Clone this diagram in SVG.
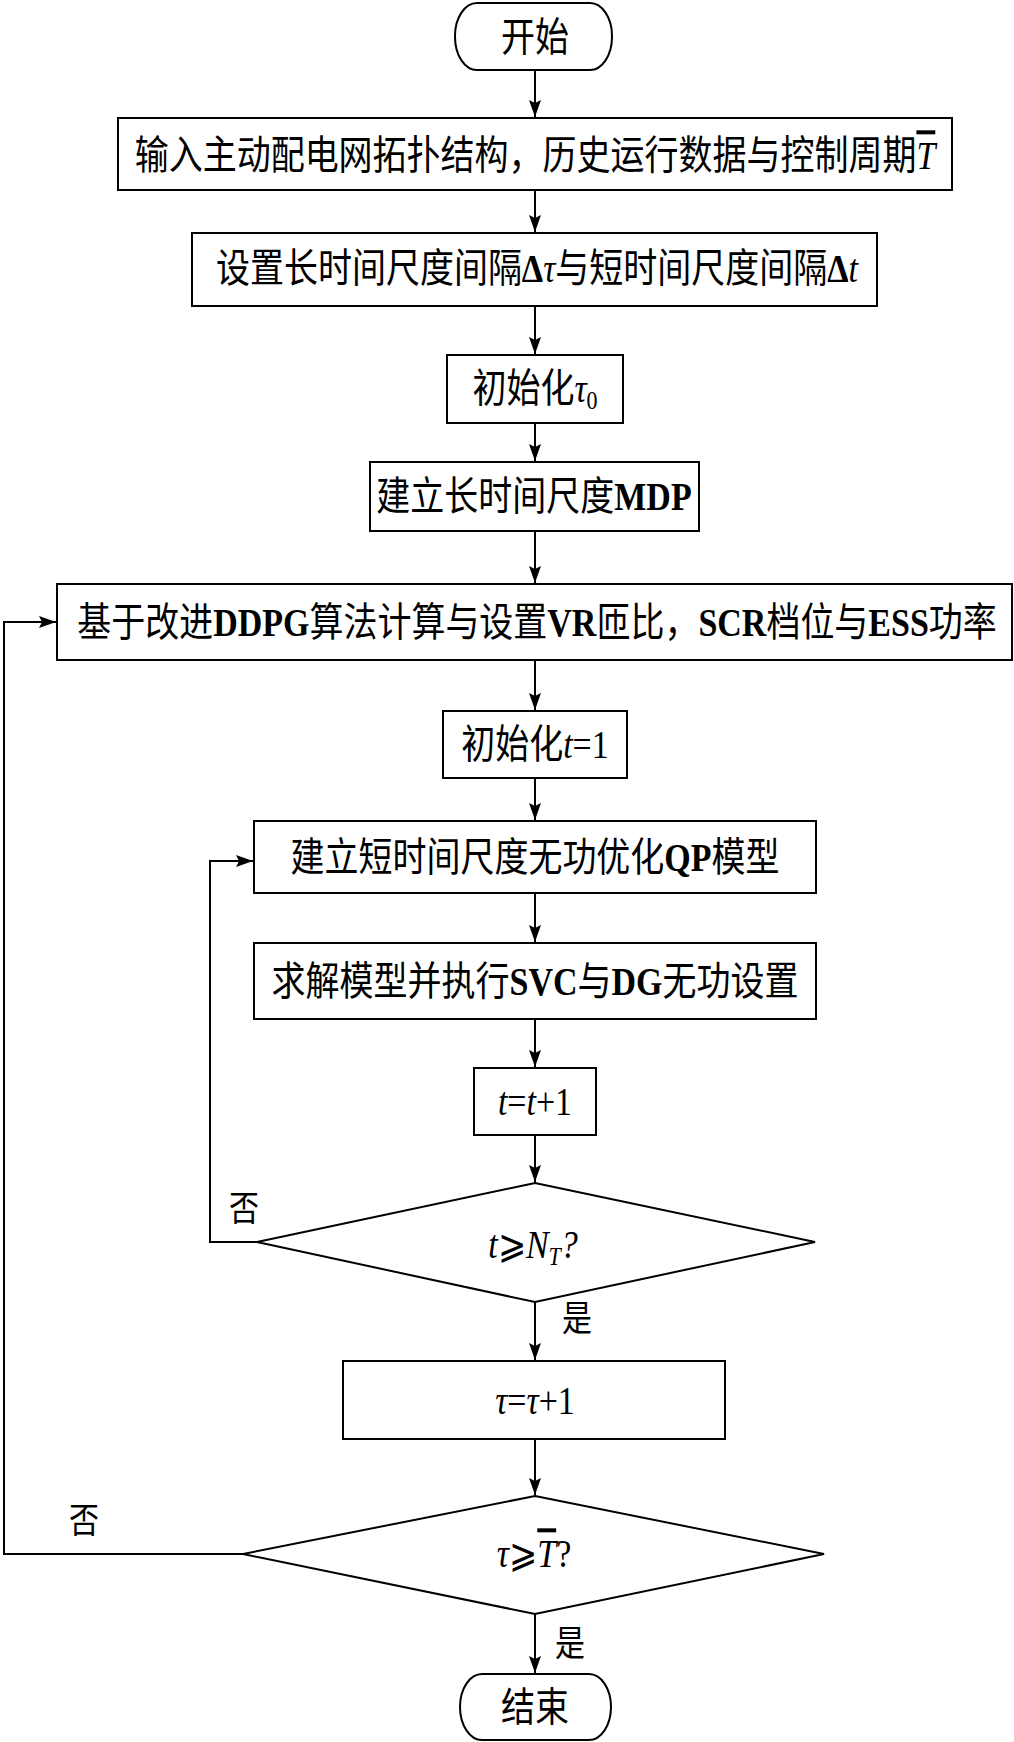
<svg xmlns="http://www.w3.org/2000/svg" width="1014" height="1742" viewBox="0 0 1014 1742">
<style>
.bx{fill:#fff;stroke:#000;stroke-width:2}
.ln{fill:none;stroke:#000;stroke-width:2}
.t{font-family:"Liberation Serif","Noto Sans CJK SC",serif;font-size:34px;text-anchor:middle;fill:#000}
.lb{font-family:"Liberation Serif","Noto Sans CJK SC",serif;font-size:30px;text-anchor:middle;fill:#000}
.b{font-weight:bold}
.i{font-style:italic}
.ov{text-decoration:overline}
</style>
<defs>
<marker id="ah" markerUnits="userSpaceOnUse" markerWidth="18" markerHeight="12" refX="17" refY="6" orient="auto"><path d="M0,0 L17,6 L0,12 L3,6 Z" fill="#000"/></marker>
</defs>
<rect width="1014" height="1742" fill="#fff"/>
<g id="connectors">
<path class="ln" d="M535,70 V117" marker-end="url(#ah)"/>
<path class="ln" d="M535,190 V232" marker-end="url(#ah)"/>
<path class="ln" d="M535,306 V354" marker-end="url(#ah)"/>
<path class="ln" d="M535,423 V461" marker-end="url(#ah)"/>
<path class="ln" d="M535,531 V583" marker-end="url(#ah)"/>
<path class="ln" d="M535,660 V710" marker-end="url(#ah)"/>
<path class="ln" d="M535,778 V820" marker-end="url(#ah)"/>
<path class="ln" d="M535,893 V942" marker-end="url(#ah)"/>
<path class="ln" d="M535,1019 V1067" marker-end="url(#ah)"/>
<path class="ln" d="M535,1135 V1182" marker-end="url(#ah)"/>
<path class="ln" d="M535,1302 V1360" marker-end="url(#ah)"/>
<path class="ln" d="M535,1439 V1495" marker-end="url(#ah)"/>
<path class="ln" d="M535,1614 V1673" marker-end="url(#ah)"/>
<path class="ln" d="M257,1242 H210 V861 H253" marker-end="url(#ah)"/>
<path class="ln" d="M243,1554 H4 V622 H56" marker-end="url(#ah)"/>
<text class="lb" transform="translate(244,1208) scale(1,1.18)" y="11">否</text>
<text class="lb" transform="translate(577,1318) scale(1,1.18)" y="11">是</text>
<text class="lb" transform="translate(84,1520) scale(1,1.18)" y="11">否</text>
<text class="lb" transform="translate(570,1643) scale(1,1.18)" y="11">是</text>
</g>
<g id="start">
<rect class="bx" x="455" y="3" width="157" height="67" rx="22" ry="33"/>
<text class="t" transform="translate(535,37) scale(1,1.18)" y="12">开始</text>
</g>
<g id="input">
<rect class="bx" x="118" y="118" width="834" height="72"/>
<text class="t" transform="translate(535,155) scale(1,1.18)" y="12">输入主动配电网拓扑结构，历史运行数据与控制周期<tspan class="i ov">T</tspan></text>
</g>
<g id="interval">
<rect class="bx" x="192" y="233" width="685" height="73"/>
<text class="t" transform="translate(537,268) scale(1,1.18)" y="12">设置长时间尺度间隔<tspan class="b">Δ</tspan><tspan class="i">τ</tspan>与短时间尺度间隔<tspan class="b">Δ</tspan><tspan class="i">t</tspan></text>
</g>
<g id="init-tau">
<rect class="bx" x="447" y="355" width="176" height="68"/>
<text class="t" transform="translate(535,388) scale(1,1.18)" y="12">初始化<tspan class="i">τ</tspan><tspan font-size="22" dy="6">0</tspan></text>
</g>
<g id="mdp">
<rect class="bx" x="370" y="462" width="329" height="69"/>
<text class="t" transform="translate(534,496) scale(1,1.18)" y="12">建立长时间尺度<tspan class="b">MDP</tspan></text>
</g>
<g id="ddpg">
<rect class="bx" x="57" y="584" width="955" height="76"/>
<text class="t" transform="translate(537,622) scale(1,1.18)" y="12">基于改进<tspan class="b">DDPG</tspan>算法计算与设置<tspan class="b">VR</tspan>匝比，<tspan class="b">SCR</tspan>档位与<tspan class="b">ESS</tspan>功率</text>
</g>
<g id="init-t">
<rect class="bx" x="443" y="711" width="184" height="67"/>
<text class="t" transform="translate(535,744) scale(1,1.18)" y="12">初始化<tspan class="i">t</tspan>=1</text>
</g>
<g id="qp">
<rect class="bx" x="254" y="821" width="562" height="72"/>
<text class="t" transform="translate(535,857) scale(1,1.18)" y="12">建立短时间尺度无功优化<tspan class="b">QP</tspan>模型</text>
</g>
<g id="solve">
<rect class="bx" x="254" y="943" width="562" height="76"/>
<text class="t" transform="translate(535,981) scale(1,1.18)" y="12">求解模型并执行<tspan class="b">SVC</tspan>与<tspan class="b">DG</tspan>无功设置</text>
</g>
<g id="t-inc">
<rect class="bx" x="474" y="1068" width="122" height="67"/>
<text class="t" transform="translate(535,1101) scale(1,1.18)" y="12"><tspan class="i">t</tspan>=<tspan class="i">t</tspan>+1</text>
</g>
<g id="dec-t">
<path class="bx" d="M535,1183 L815,1242 L535,1302 L257,1242 Z"/>
<text class="t" transform="translate(533,1244) scale(1,1.18)" y="12"><tspan class="i">t</tspan>⩾<tspan class="i">N</tspan><tspan class="i" font-size="22" dy="6">T</tspan><tspan class="i" dy="-6">?</tspan></text>
</g>
<g id="tau-inc">
<rect class="bx" x="343" y="1361" width="382" height="78"/>
<text class="t" transform="translate(535,1400) scale(1,1.18)" y="12"><tspan class="i">τ</tspan>=<tspan class="i">τ</tspan>+1</text>
</g>
<g id="dec-tau">
<path class="bx" d="M535,1496 L824,1554 L535,1614 L243,1554 Z"/>
<text class="t" transform="translate(534,1553) scale(1,1.18)" y="12"><tspan class="i">τ</tspan>⩾<tspan class="i ov">T</tspan>?</text>
</g>
<g id="end">
<rect class="bx" x="460" y="1674" width="151" height="66" rx="22" ry="33"/>
<text class="t" transform="translate(535,1707) scale(1,1.18)" y="12">结束</text>
</g>
</svg>
